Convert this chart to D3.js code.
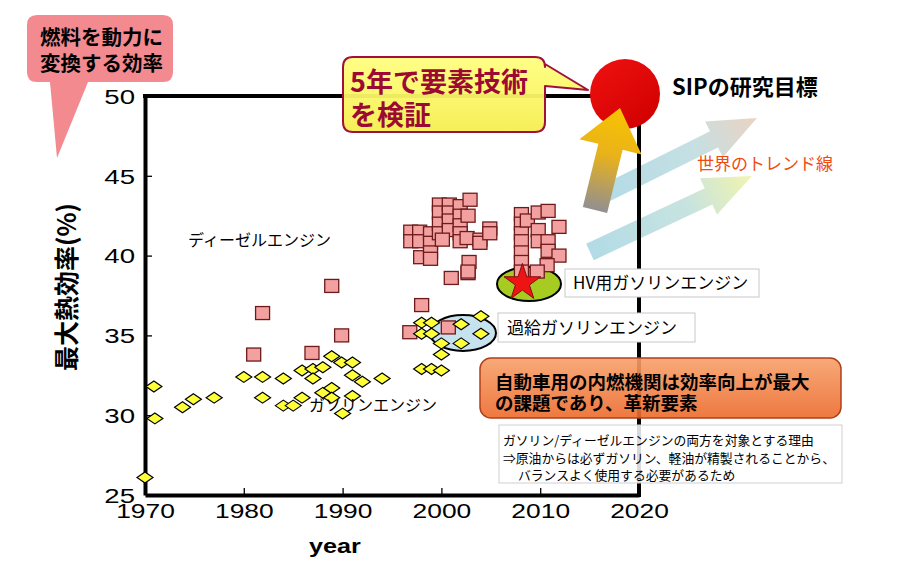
<!DOCTYPE html>
<html><head><meta charset="utf-8">
<script src="https://cdn.jsdelivr.net/npm/d3@7"></script>
<style>body{margin:0;background:#fff}svg{display:block}</style>
</head><body>
<svg id="c" width="900" height="575"></svg>
<script>
// ---- data ----
const gasYear = [1970,1970.9,1971,1973.8,1974.9,1977,1980,1981.9,1981.9,1984,1984,1985,1985.9,1985.9,1987,1987,1988,1988.9,1989.9,1991,1991,1988,1988.9,1988.9,1991,1990,1992,1994,1998,1999,1998,1999,2000,2000,2002,2002,2004,2004,1998,1999,2000];
const gasEff  = [26.1,31.8,29.8,30.5,31.0,31.1,32.4,32.4,31.1,32.3,30.6,30.6,32.8,31.1,32.9,32.3,33.0,33.7,33.3,33.3,32.5,31.4,31.7,31.1,31.2,30.1,32.1,32.3,35.8,35.8,35.1,35.1,34.5,33.8,35.7,34.5,36.2,35.1,32.9,32.9,32.8];
const dieselYear = [1988.9,1981.9,1989.9,1981,1986.9,2001,2002.7,1998,1996.8,2000.7,
 1996.9,1997.8,1996.9,1997.8,1998.9,1998.9,1997.9,1998.9,1998.9,1999.8,1999.8,1999.8,1999.8,2000.8,2000.8,2000.8,2000.8,2001.9,2001.9,2001.9,2001.9,2002.9,2002.7,2000.1,2001.9,2002.6,2003.9,2003.9,2004.9,2004.9,2002.8,2002.7,
 2008.1,2008.1,2008.1,2008.1,2008.1,2008.1,2008.1,2008.7,2009.8,2010.8,2009.8,2009.8,2010.8,2010.8,2011.9,2011.9,2010.7,2009.7];
const dieselEff = [38.1,36.4,35.0,33.8,33.9,38.6,38.9,36.9,35.2,35.5,
 41.5,41.5,40.9,40.9,41.4,40.8,39.9,40.2,39.8,43.2,42.7,42.0,41.4,43.2,42.7,42.2,41.6,43.1,42.5,41.9,41.4,43.5,42.5,41.0,40.9,41.1,41.0,40.8,41.7,41.4,39.6,39.0,
 42.6,42.0,41.4,40.9,40.2,39.6,39.0,42.2,42.7,42.8,41.6,40.9,40.9,40.3,41.8,40.0,39.4,39.0];
const hvPoint = [2008.2, 38.3];
const xTicks = [1970,1980,1990,2000,2010,2020];
const yTicks = [25,30,35,40,45,50];

const JP = "'Noto Sans CJK JP','Noto Sans',sans-serif";
const LAT = "'Liberation Sans',Arial,sans-serif";

const svg = d3.select("#c");
const x = d3.scaleLinear().domain([1970,2020]).range([145,639]);
const y = d3.scaleLinear().domain([25,50]).range([495,96]);

const defs = svg.append("defs");
function lg(id, x1,y1,x2,y2, stops){
  const g = defs.append("linearGradient").attr("id",id).attr("gradientUnits","userSpaceOnUse")
    .attr("x1",x1).attr("y1",y1).attr("x2",x2).attr("y2",y2);
  stops.forEach(s=>g.append("stop").attr("offset",s[0]).attr("stop-color",s[1]).attr("stop-opacity",s[2]==null?1:s[2]));
}
lg("gYel",620,108,595,212,[[0,"#f8c400"],[0.45,"#e9b21a"],[1,"#8e8e96"]]);
lg("gUp",600,196,757,118,[[0,"#9fd2e0",0.8],[0.6,"#b7d8dc",0.8],[1,"#e6c8b4",0.8]]);
lg("gLo",590,252,752,176,[[0,"#9fd2e0",0.8],[0.6,"#b9dcd8",0.8],[1,"#eef29a",0.8]]);
lg("gCall",0,57,0,132,[[0,"#ffff80"],[1,"#f6ee50"]]);
lg("gOr",0,358,0,418,[[0,"#f7a06a"],[1,"#ec6a2c"]]);
lg("gRed",600,60,650,128,[[0,"#ee1010"],[1,"#d00000"]]);

function arrowPts(x1,y1,x2,y2,sw,hw,hl){
  const dx=x2-x1, dy=y2-y1, L=Math.hypot(dx,dy), ux=dx/L, uy=dy/L, px=-uy, py=ux;
  const bx=x2-ux*hl, by=y2-uy*hl;
  return [[x1+px*sw/2,y1+py*sw/2],[bx+px*sw/2,by+py*sw/2],[bx+px*hw/2,by+py*hw/2],[x2,y2],
          [bx-px*hw/2,by-py*hw/2],[bx-px*sw/2,by-py*sw/2],[x1-px*sw/2,y1-py*sw/2]].map(p=>p.join(",")).join(" ");
}

// trend arrows
svg.append("polygon").attr("points",arrowPts(600,196,757,118,18,40,48)).attr("fill","url(#gUp)");
svg.append("polygon").attr("points",arrowPts(590,252,752,176,18,40,48)).attr("fill","url(#gLo)");

// axes frame
const gx = svg.append("g").attr("transform","translate(0,495)")
  .call(d3.axisBottom(x).tickValues(xTicks).tickSizeInner(-7).tickSizeOuter(0).tickFormat(d3.format("d")));
const gy = svg.append("g").attr("transform","translate(145,0)")
  .call(d3.axisLeft(y).tickValues(yTicks).tickSizeInner(-7).tickSizeOuter(0));
[gx,gy].forEach(g=>{
  g.select(".domain").attr("stroke","#000").attr("stroke-width",4);
  g.selectAll(".tick line").attr("stroke","#000").attr("stroke-width",1.3);
  g.selectAll(".tick text").attr("fill","#000").style("font-family",LAT).style("font-size","20px");
});
gx.selectAll(".tick text").attr("y",9).attr("transform","scale(1.32,1)");
gy.selectAll(".tick text").attr("x",-10/1.38).attr("dy","0.36em").attr("transform","scale(1.38,1)");
gx.selectAll(".tick").filter(d=>d===1970||d===2020).select("line").remove();
gy.selectAll(".tick").filter(d=>d===25||d===50).select("line").remove();
svg.append("line").attr("x1",143).attr("x2",641).attr("y1",96).attr("y2",96).attr("stroke","#000").attr("stroke-width",4);
svg.append("line").attr("x1",639).attr("x2",639).attr("y1",94).attr("y2",497).attr("stroke","#000").attr("stroke-width",4);

// axis titles
svg.append("text").attr("transform","translate(335,553) scale(1.2,1)").attr("text-anchor","middle")
  .style("font-family",LAT).style("font-weight","bold").style("font-size","21px").text("year");
svg.append("text").attr("transform","translate(76,287) rotate(-90)").attr("text-anchor","middle")
  .style("font-family",JP).style("font-weight","bold").style("font-size","25px").text("最大熱効率(%)");

// ellipses
svg.append("ellipse").attr("cx",463).attr("cy",333).attr("rx",33).attr("ry",18)
  .attr("fill","#c6e2ee").attr("stroke","#000").attr("stroke-width",2);
svg.append("ellipse").attr("cx",529).attr("cy",284).attr("rx",32).attr("ry",17)
  .attr("fill","#a6cc22").attr("stroke","#000").attr("stroke-width",2);

// markers
const gas = gasYear.map((d,i)=>[d,gasEff[i]]);
const dsl = dieselYear.map((d,i)=>[d,dieselEff[i]]);
svg.append("g").selectAll("rect").data(dsl).join("rect")
  .attr("x",d=>x(d[0])-7).attr("y",d=>y(d[1])-6.5).attr("width",14).attr("height",13)
  .attr("fill","#f2a0a0").attr("stroke","#6e1a1a").attr("stroke-width",1.3);
svg.append("g").selectAll("path").data(gas).join("path")
  .attr("d",d=>{const cx=x(d[0]),cy=y(d[1]);return `M${cx-8},${cy}L${cx},${cy-5.5}L${cx+8},${cy}L${cx},${cy+5.5}Z`;})
  .attr("fill","#ffff3a").attr("stroke","#000").attr("stroke-width",1.2);

// star
const star = d3.symbol().type(d3.symbolStar).size(420);
svg.append("path").attr("d",star()).attr("transform",`translate(${x(hvPoint[0])},${y(hvPoint[1])})`)
  .attr("fill","#ee1414").attr("stroke","#801010").attr("stroke-width",1);

// series labels
svg.append("text").attr("x",188).attr("y",246).style("font-family",JP).style("font-size","16px").text("ディーゼルエンジン");
svg.append("text").attr("x",309).attr("y",411).style("font-family",JP).style("font-size","16px").text("ガソリンエンジン");

// label boxes
function labelBox(x0,y0,w,h,txt,tx,ty,fs){
  svg.append("rect").attr("x",x0).attr("y",y0).attr("width",w).attr("height",h).attr("fill","#fff").attr("stroke","#c8c8c8").attr("stroke-width",1);
  svg.append("text").attr("x",tx).attr("y",ty).style("font-family",JP).style("font-size",fs+"px").text(txt);
}
labelBox(565,269,194,28,"HV用ガソリンエンジン",573,289,17);
labelBox(498,313,197,29,"過給ガソリンエンジン",507,334,17);

// orange box
svg.append("rect").attr("x",480).attr("y",358).attr("width",361).attr("height",60).attr("rx",11)
  .attr("fill","url(#gOr)").attr("fill-opacity",0.9).attr("stroke","#b0401a").attr("stroke-width",1.5);
svg.append("text").attr("x",495).attr("y",389).style("font-family",JP).style("font-weight","bold").style("font-size","18.5px").text("自動車用の内燃機関は効率向上が最大");
svg.append("text").attr("x",495).attr("y",410).style("font-family",JP).style("font-weight","bold").style("font-size","18.5px").text("の課題であり、革新要素");

// white note box
svg.append("rect").attr("x",499).attr("y",425).attr("width",343).attr("height",58)
  .attr("fill","#fff").attr("fill-opacity",0.85).attr("stroke","#cfcfcf").attr("stroke-width",1);
[["ガソリン/ディーゼルエンジンの両方を対象とする理由",503,445],["⇒原油からは必ずガソリン、軽油が精製されることから、",503,463],["バランスよく使用する必要があるため",518,480]]
 .forEach(t=>svg.append("text").attr("x",t[1]).attr("y",t[2]).style("font-family",JP).style("font-size","12.8px").text(t[0]));

// red target circle
svg.append("circle").attr("cx",625).attr("cy",94).attr("r",35).attr("fill","url(#gRed)");
// yellow arrow
svg.append("polygon").attr("points",arrowPts(595,210,620,108,25,64,40)).attr("fill","url(#gYel)");

// yellow callout
svg.append("path").attr("d","M353,57 H535 Q545,57 545,67 V64 L588,90 L545,86 V122 Q545,132 535,132 H353 Q343,132 343,122 V67 Q343,57 353,57 Z")
  .attr("fill","url(#gCall)").attr("fill-opacity",0.95).attr("stroke","#a0103a").attr("stroke-width",2).attr("stroke-linejoin","round");
svg.append("text").attr("x",350).attr("y",92).attr("fill","#9c0a33").style("font-family",JP).style("font-weight","bold").style("font-size","27px").text("5年で要素技術");
svg.append("text").attr("x",350).attr("y",125).attr("fill","#9c0a33").style("font-family",JP).style("font-weight","bold").style("font-size","27px").text("を検証");

// pink callout
svg.append("path").attr("d","M37,15 H163 Q173,15 173,25 V72 Q173,82 163,82 H88 L57,158 L50,82 H37 Q27,82 27,72 V25 Q27,15 37,15 Z")
  .attr("fill","#f28a90");
svg.append("text").attr("x",40).attr("y",45).style("font-family",JP).style("font-weight","bold").style("font-size","20.5px").text("燃料を動力に");
svg.append("text").attr("x",40).attr("y",71).style("font-family",JP).style("font-weight","bold").style("font-size","20.5px").text("変換する効率");

// right-side texts
svg.append("text").attr("x",672).attr("y",95).style("font-family",JP).style("font-weight","bold").style("font-size","22px").text("SIPの研究目標");
svg.append("text").attr("x",697).attr("y",170).attr("fill","#f04a10").style("font-family",JP).style("font-size","17px").text("世界のトレンド線");
</script>
</body></html>
